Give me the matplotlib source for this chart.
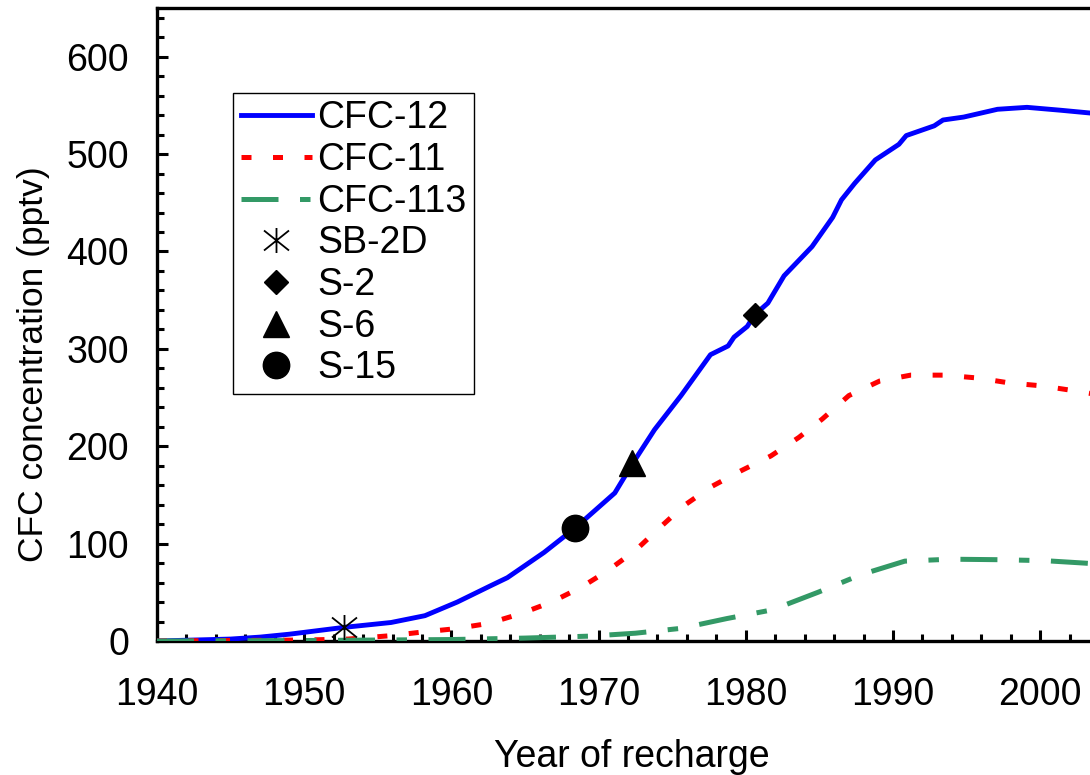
import matplotlib as mpl
mpl.use("Agg")
import matplotlib.pyplot as plt
from matplotlib.path import Path
from matplotlib.ticker import MultipleLocator

mpl.rcParams.update({
    "font.family": ["Liberation Sans", "DejaVu Sans"],
    "font.size": 27,
})

# ---- atmospheric input curves ----
years12 = [1940, 1945, 1947, 1949, 1952.7, 1955.9, 1958.2, 1960.4, 1962.7, 1963.8,
           1966.3, 1968.4, 1971.1, 1972.3, 1973.8, 1975.6, 1977.6, 1978.8, 1979.2,
           1980.1, 1980.6, 1981.5, 1982.6, 1984.5, 1985.9, 1986.5, 1987.4, 1988.8,
           1989.4, 1990.4, 1990.9, 1992.8, 1993.4, 1994.8, 1997.1, 1999.1, 2001.4, 2003.5]
cfc12 = [0, 2, 4, 7, 14, 19, 26, 40, 57, 65,
         91, 116, 152, 182, 217, 252, 294, 303, 312,
         323, 335, 347, 375, 405, 435, 453, 470, 494,
         500, 510, 519, 529, 535, 538, 546, 548, 545, 542]

years11 = [1940, 1945, 1950, 1953, 1955.9, 1957.9, 1960.2, 1962.5, 1964.7, 1966.8,
           1968.8, 1970.6, 1972.5, 1974.2, 1975.8, 1977.6, 1979.7, 1981.7, 1983.6,
           1985.2, 1987.0, 1989.1, 1991.2, 1993.5, 1995.8, 1997.9, 2000.1, 2002.3, 2003.5]
cfc11 = [0, 0.5, 1, 2, 5.5, 9, 12.5, 18, 28, 40,
         55, 72, 93, 117, 139, 158, 175, 190, 209,
         228, 252, 267, 273, 273, 270, 265, 262, 257, 254]

years113 = [1940, 1950, 1955, 1960, 1965, 1969.4, 1972.5, 1975.6, 1978.7, 1981.8,
            1984.9, 1987.8, 1990.8, 1993.9, 1997.1, 2000.3, 2003.0, 2003.5]
cfc113 = [0, 0.5, 1, 1.5, 3, 5, 8, 13, 23, 32,
          50, 68, 82, 84, 83.5, 82.5, 80, 79.5]

# ---- well samples ----
sample_names = ["SB-2D", "S-2", "S-6", "S-15"]
sample_years = [1952.7, 1980.6, 1972.3, 1968.4]
sample_conc = [14, 335, 183, 116]
year_ticks = [1940, 1950, 1960, 1970, 1980, 1990, 2000]

# vertical bar + X, like the reference asterisk
star = Path([(0, -1), (0, 1), (-1, -0.8), (1, 0.8), (-1, 0.8), (1, -0.8)],
            [Path.MOVETO, Path.LINETO, Path.MOVETO, Path.LINETO, Path.MOVETO, Path.LINETO])
marker_styles = [dict(marker=star, ms=18, mfc="none", mec="black", mew=1.3),
                 dict(marker="D", ms=12.5, mfc="black", mec="black"),
                 dict(marker="^", ms=18.5, mfc="black", mec="black"),
                 dict(marker="o", ms=19, mfc="black", mec="black")]

fig = plt.figure(figsize=(10.9, 7.75), dpi=100)
px_per_year = 14.72
x0, x1 = 1940, 2010
ax_w = (x1-x0)*px_per_year
ax = fig.add_axes([157/1090, 1-641/775, ax_w/1090, 633/775])

ax.plot(years12, cfc12, color="#0000FF", lw=3.5, label="CFC-12", zorder=3)
ax.plot(years11, cfc11, color="#FF0000", lw=3.6, ls=(0, (2, 4.3)), label="CFC-11", zorder=3)
ax.plot(years113, cfc113, color="#339966", lw=3.6, ls=(0, (7.4, 4.3, 2.1, 4.3)),
        label="CFC-113", zorder=3)
for name, yr, c, st in zip(sample_names, sample_years, sample_conc, marker_styles):
    ax.plot([yr], [c], ls="none", label=name, zorder=5, **st)

ax.set_xlim(x0, x1)
ax.set_ylim(0, 650)
ax.set_xticks(year_ticks)
ax.xaxis.set_minor_locator(MultipleLocator(2))
ax.yaxis.set_major_locator(MultipleLocator(100))
ax.yaxis.set_minor_locator(MultipleLocator(20))
ax.tick_params(which="both", direction="in", width=2.2, top=False, right=False)
ax.tick_params(which="major", length=8)
ax.tick_params(which="minor", length=5)
ax.tick_params(axis="y", pad=20)
ax.tick_params(axis="x", pad=26)
for s in ax.spines.values():
    s.set_linewidth(2.4)

fig.text(632/1090, 1-767/775, "Year of recharge", ha="center", va="baseline")
fig.text(34/1090, 1-364/775, "CFC concentration (pptv)", rotation=90, ha="center", va="center",
         fontsize=25.5)

leg = ax.legend(loc="upper left", bbox_to_anchor=((233-157)/ax_w, (641-93)/633),
                borderaxespad=0, frameon=True, fancybox=False, framealpha=1,
                edgecolor="black", borderpad=0.2, labelspacing=0.15,
                handlelength=1.9, handletextpad=0.15, numpoints=1)
leg.get_frame().set_linewidth(1.0)

fig.savefig("out.png", dpi=100)
